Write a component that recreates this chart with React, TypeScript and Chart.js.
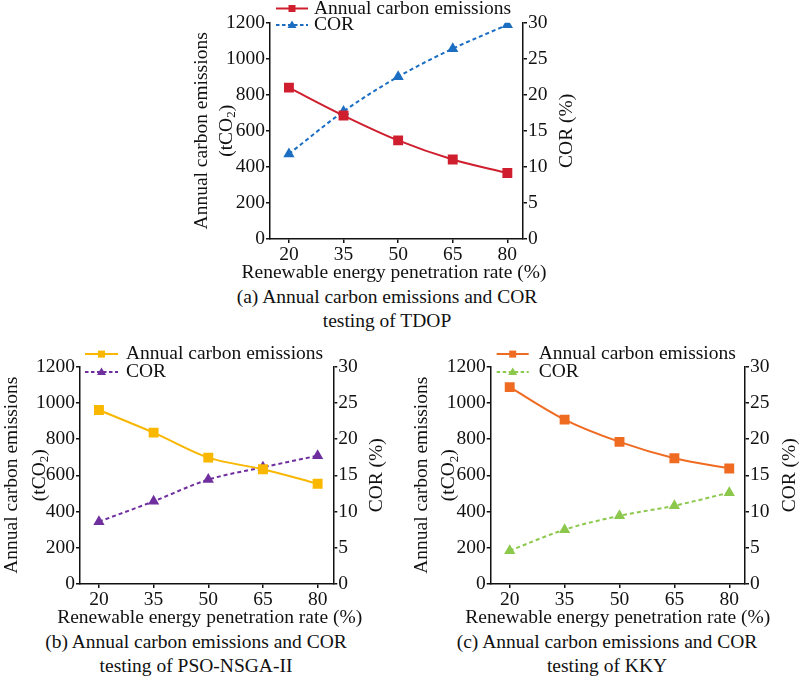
import React, { useEffect, useRef } from "react";
import { Chart, registerables } from "chart.js";

Chart.register(...registerables);

// ---------------- data ----------------
const rates = [20, 35, 50, 65, 80];
const emissionTicks = [0, 200, 400, 600, 800, 1000, 1200];
const corTicks = [0, 5, 10, 15, 20, 25, 30];

const tdopEmissions = [840, 685, 547, 441, 366];
const tdopCor = [11.8, 17.7, 22.5, 26.4, 29.7];

const psoEmissions = [960, 835, 697, 633, 553];
const psoCor = [8.6, 11.4, 14.4, 16.1, 17.7];

const kkyEmissions = [1086, 907, 784, 694, 637];
const kkyCor = [4.6, 7.5, 9.4, 10.8, 12.6];

const seriesNames = ["Annual carbon emissions", "COR"];
const xTitle = "Renewable energy penetration rate (%)";
const yTitleLine1 = "Annual carbon emissions";
const yTitleLine2 = ["(tCO", "2", ")"];
const y2Title = "COR (%)";

const captionsA = ["(a) Annual carbon emissions and COR", "testing of TDOP"];
const captionsB = ["(b) Annual carbon emissions and COR", "testing of PSO-NSGA-II"];
const captionsC = ["(c) Annual carbon emissions and COR", "testing of KKY"];

// ---------------- styling ----------------
const FONT = `"Liberation Serif", "Times New Roman", serif`;
const FS = 19.5;
const TXT = "#111";

type Panel = {
  left: number; top: number; width: number; height: number;
  leftW: number; rightW: number; padTop: number; bottomH: number;
  yTitleX: [number, number]; rightTitleDx: number; xTitleDx: number;
  legendDy: [number, number]; legendLine: [number, number]; legendText: number;
  emissions: number[]; cor: number[];
  c1: string; c2: string;
  captions: string[]; capCenter: number; capTop: number;
};

const panels: Panel[] = [
  {
    left: 180, top: 0, width: 420, height: 285,
    leftW: 90, rightW: 77, padTop: 22.7, bottomH: 46,
    yTitleX: [22, 47], rightTitleDx: 44, xTitleDx: -2.5,
    legendDy: [-14.2, 2.3], legendLine: [6, 38], legendText: 44,
    emissions: tdopEmissions, cor: tdopCor,
    c1: "#cf1f2e", c2: "#1b6ec2",
    captions: captionsA, capCenter: 387, capTop: 285,
  },
  {
    left: 0, top: 340, width: 400, height: 290,
    leftW: 80, rightW: 66.7, padTop: 26.5, bottomH: 46,
    yTitleX: [12, 39.5], rightTitleDx: 44, xTitleDx: 3,
    legendDy: [-12.4, 5.6], legendLine: [5, 38], legendText: 46,
    emissions: psoEmissions, cor: psoCor,
    c1: "#f9b700", c2: "#6f2f9f",
    captions: captionsB, capCenter: 196, capTop: 630,
  },
  {
    left: 400, top: 340, width: 400, height: 290,
    leftW: 90.7, rightW: 55, padTop: 26.5, bottomH: 46,
    yTitleX: [21.7, 49.3], rightTitleDx: 45, xTitleDx: 0,
    legendDy: [-12.4, 5.6], legendLine: [6, 38], legendText: 48,
    emissions: kkyEmissions, cor: kkyCor,
    c1: "#ef6b22", c2: "#8cc84b",
    captions: captionsC, capCenter: 607, capTop: 630,
  },
];

function makeDecor(p: Panel) {
  return {
    id: "decor",
    afterDraw(chart: any) {
      const ctx = chart.ctx as CanvasRenderingContext2D;
      const a = chart.chartArea;
      const cy = (a.top + a.bottom) / 2;
      const subFont = `${Math.round(FS * 0.68)}px ${FONT}`;
      const mainFont = `${FS}px ${FONT}`;
      ctx.save();
      ctx.fillStyle = TXT;
      ctx.textBaseline = "middle";
      ctx.font = mainFont;
      // x axis title
      ctx.textAlign = "center";
      ctx.fillText(xTitle, (a.left + a.right) / 2 + p.xTitleDx, a.bottom + 34);
      // left axis title line 1
      ctx.save();
      ctx.translate(p.yTitleX[0], cy);
      ctx.rotate(-Math.PI / 2);
      ctx.textAlign = "center";
      ctx.fillText(yTitleLine1, 0, 0);
      ctx.restore();
      // left axis title line 2 with subscript
      ctx.save();
      ctx.translate(p.yTitleX[1], cy);
      ctx.rotate(-Math.PI / 2);
      ctx.textAlign = "left";
      ctx.font = mainFont;
      const w0 = ctx.measureText(yTitleLine2[0]).width;
      const w2 = ctx.measureText(yTitleLine2[2]).width;
      ctx.font = subFont;
      const w1 = ctx.measureText(yTitleLine2[1]).width;
      let x = -(w0 + w1 + w2) / 2;
      ctx.font = mainFont;
      ctx.fillText(yTitleLine2[0], x, 0);
      x += w0;
      ctx.font = subFont;
      ctx.fillText(yTitleLine2[1], x, 5);
      x += w1;
      ctx.font = mainFont;
      ctx.fillText(yTitleLine2[2], x, 0);
      ctx.restore();
      // right axis title
      ctx.save();
      ctx.font = mainFont;
      ctx.translate(a.right + p.rightTitleDx, cy);
      ctx.rotate(-Math.PI / 2);
      ctx.textAlign = "center";
      ctx.fillText(y2Title, 0, 0);
      ctx.restore();
      // legend
      const colors = [p.c1, p.c2];
      for (let i = 0; i < 2; i++) {
        const y = a.top + p.legendDy[i];
        const x0 = a.left + p.legendLine[0];
        const x1 = a.left + p.legendLine[1];
        const xm = (x0 + x1) / 2;
        ctx.save();
        ctx.strokeStyle = colors[i];
        ctx.fillStyle = colors[i];
        ctx.lineWidth = 2;
        if (i === 1) ctx.setLineDash([3.5, 2.5]);
        ctx.beginPath();
        ctx.moveTo(x0, y);
        ctx.lineTo(x1, y);
        ctx.stroke();
        ctx.setLineDash([]);
        if (i === 0) {
          ctx.fillRect(xm - 3.5, y - 3.5, 7, 7);
        } else {
          ctx.beginPath();
          ctx.moveTo(xm, y - 4.5);
          ctx.lineTo(xm + 4.5, y + 3);
          ctx.lineTo(xm - 4.5, y + 3);
          ctx.closePath();
          ctx.fill();
        }
        ctx.restore();
        ctx.fillStyle = TXT;
        ctx.font = mainFont;
        ctx.textAlign = "left";
        ctx.fillText(seriesNames[i], a.left + p.legendText, y);
      }
      ctx.restore();
    },
  };
}

function axisGrid() {
  return {
    display: true,
    drawOnChartArea: false,
    drawTicks: true,
    tickLength: 4,
    color: "#111",
    lineWidth: 1.5,
  };
}

function PanelChart({ p }: { p: Panel }) {
  const ref = useRef<HTMLCanvasElement | null>(null);
  useEffect(() => {
    if (!ref.current) return;
    const tickFont = { family: FONT, size: FS };
    const chart = new Chart(ref.current, {
      type: "line",
      data: {
        datasets: [
          {
            label: seriesNames[0],
            data: rates.map((r, i) => ({ x: r, y: p.emissions[i] })),
            yAxisID: "y",
            borderColor: p.c1,
            backgroundColor: p.c1,
            borderWidth: 2,
            pointStyle: "rect",
            pointRadius: 7,
            pointBorderWidth: 0,
            cubicInterpolationMode: "monotone",
          },
          {
            label: seriesNames[1],
            data: rates.map((r, i) => ({ x: r, y: p.cor[i] })),
            yAxisID: "y1",
            borderColor: p.c2,
            backgroundColor: p.c2,
            borderWidth: 2,
            borderDash: [4, 3],
            pointStyle: "triangle",
            pointRadius: 6.5,
            pointBorderWidth: 0,
            cubicInterpolationMode: "monotone",
          },
        ],
      },
      options: {
        responsive: false,
        animation: false,
        layout: { padding: { top: p.padTop, left: 0, right: 0, bottom: 0 } },
        plugins: { legend: { display: false }, tooltip: { enabled: false } },
        scales: {
          x: {
            type: "linear",
            min: 14.8,
            max: 84.3,
            afterBuildTicks: (s: any) => { s.ticks = rates.map((v) => ({ value: v })); },
            afterFit: (s: any) => { s.height = p.bottomH; },
            ticks: { font: tickFont, color: TXT, padding: 0, maxRotation: 0, callback: (v: any) => String(v) },
            grid: axisGrid() as any,
            border: { display: true, color: "#111", width: 1.5 },
            title: { display: false },
          },
          y: {
            type: "linear",
            position: "left",
            min: 0,
            max: 1200,
            afterBuildTicks: (s: any) => { s.ticks = emissionTicks.map((v) => ({ value: v })); },
            afterFit: (s: any) => { s.width = p.leftW; },
            ticks: { font: tickFont, color: TXT, padding: 1, callback: (v: any) => String(v) },
            grid: axisGrid() as any,
            border: { display: true, color: "#111", width: 1.5 },
          },
          y1: {
            type: "linear",
            position: "right",
            min: 0,
            max: 30,
            afterBuildTicks: (s: any) => { s.ticks = corTicks.map((v) => ({ value: v })); },
            afterFit: (s: any) => { s.width = p.rightW; },
            ticks: { font: tickFont, color: TXT, padding: 1, callback: (v: any) => String(v) },
            grid: axisGrid() as any,
            border: { display: true, color: "#111", width: 1.5 },
          },
        },
      } as any,
      plugins: [makeDecor(p)],
    });
    return () => chart.destroy();
  }, [p]);
  return (
    <>
      <canvas
        ref={ref}
        width={p.width}
        height={p.height}
        style={{ position: "absolute", left: p.left, top: p.top, width: p.width, height: p.height }}
      />
      <div
        style={{
          position: "absolute",
          left: p.capCenter - 220,
          top: p.capTop,
          width: 440,
          textAlign: "center",
          fontFamily: FONT,
          fontSize: FS,
          lineHeight: "24px",
          color: TXT,
          whiteSpace: "nowrap",
        }}
      >
        {p.captions.map((c, i) => (
          <div key={i}>{c}</div>
        ))}
      </div>
    </>
  );
}

export default function App() {
  return (
    <div
      style={{
        position: "absolute",
        left: 0,
        top: 0,
        width: 800,
        height: 679,
        background: "#fff",
        overflow: "hidden",
      }}
    >
      {panels.map((p, i) => (
        <PanelChart key={i} p={p} />
      ))}
    </div>
  );
}
